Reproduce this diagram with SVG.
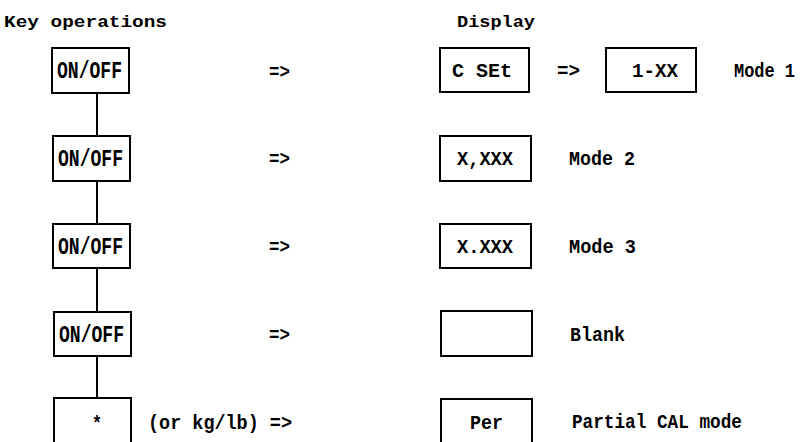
<svg xmlns="http://www.w3.org/2000/svg" width="801" height="442" viewBox="0 0 801 442">
<style>
.box{fill:none;stroke:#000;stroke-width:2}
.ln{stroke:#000;stroke-width:2;fill:none}
text{font-family:"Liberation Mono","DejaVu Sans Mono",monospace;font-weight:bold;fill:#000;font-size:21px}
.k{font-size:23px}
.h{font-size:17px}
</style>
<rect width="801" height="442" fill="#fff"/>
<text class="h" x="4" y="27" textLength="163" lengthAdjust="spacingAndGlyphs">Key operations</text>
<text class="h" x="457" y="27" textLength="78" lengthAdjust="spacingAndGlyphs">Display</text>
<g id="connectors">
<line class="ln" x1="97" y1="93" x2="97" y2="136"/>
<line class="ln" x1="97" y1="181" x2="97" y2="224"/>
<line class="ln" x1="97" y1="268" x2="97" y2="311"/>
<line class="ln" x1="97" y1="356" x2="97" y2="398"/>
</g>
<g id="key1"><rect class="box" x="52" y="48" width="77" height="45"/><text class="k" x="57" y="78" textLength="65" lengthAdjust="spacingAndGlyphs">ON/OFF</text></g>
<g id="key2"><rect class="box" x="53" y="136" width="77" height="45"/><text class="k" x="58" y="166" textLength="65" lengthAdjust="spacingAndGlyphs">ON/OFF</text></g>
<g id="key3"><rect class="box" x="53" y="224" width="77" height="44"/><text class="k" x="58" y="254" textLength="65" lengthAdjust="spacingAndGlyphs">ON/OFF</text></g>
<g id="key4"><rect class="box" x="54" y="312" width="77" height="44"/><text class="k" x="59" y="342" textLength="65" lengthAdjust="spacingAndGlyphs">ON/OFF</text></g>
<g id="key5"><rect class="box" x="54" y="398" width="77" height="60"/><text x="92" y="430" textLength="10" lengthAdjust="spacingAndGlyphs">*</text></g>
<text x="269" y="78" textLength="21" lengthAdjust="spacingAndGlyphs">=&gt;</text>
<text x="269" y="165" textLength="21" lengthAdjust="spacingAndGlyphs">=&gt;</text>
<text x="269" y="253" textLength="21" lengthAdjust="spacingAndGlyphs">=&gt;</text>
<text x="269" y="341" textLength="21" lengthAdjust="spacingAndGlyphs">=&gt;</text>
<text x="148" y="429" textLength="144" lengthAdjust="spacingAndGlyphs">(or kg/lb) =&gt;</text>
<g id="disp1"><rect class="box" x="440" y="48" width="89" height="44"/><text x="452" y="77" textLength="60" lengthAdjust="spacingAndGlyphs">C SEt</text></g>
<text x="557" y="77" textLength="23" lengthAdjust="spacingAndGlyphs">=&gt;</text>
<g id="disp1b"><rect class="box" x="606" y="48" width="90" height="44"/><text x="632" y="77" textLength="46" lengthAdjust="spacingAndGlyphs">1-XX</text></g>
<text x="734" y="77" textLength="61" lengthAdjust="spacingAndGlyphs">Mode 1</text>
<g id="disp2"><rect class="box" x="440" y="136" width="91" height="45"/><text x="457" y="165" textLength="56" lengthAdjust="spacingAndGlyphs">X,XXX</text></g>
<text x="569" y="165" textLength="66" lengthAdjust="spacingAndGlyphs">Mode 2</text>
<g id="disp3"><rect class="box" x="440" y="224" width="91" height="44"/><text x="457" y="253" textLength="56" lengthAdjust="spacingAndGlyphs">X.XXX</text></g>
<text x="569" y="253" textLength="67" lengthAdjust="spacingAndGlyphs">Mode 3</text>
<g id="disp4"><rect class="box" x="441" y="311" width="91" height="45"/></g>
<text x="570" y="341" textLength="55" lengthAdjust="spacingAndGlyphs">Blank</text>
<g id="disp5"><rect class="box" x="441" y="399" width="91" height="60"/><text x="470" y="429" textLength="33" lengthAdjust="spacingAndGlyphs">Per</text></g>
<text x="572" y="428" textLength="170" lengthAdjust="spacingAndGlyphs">Partial CAL mode</text>
</svg>
